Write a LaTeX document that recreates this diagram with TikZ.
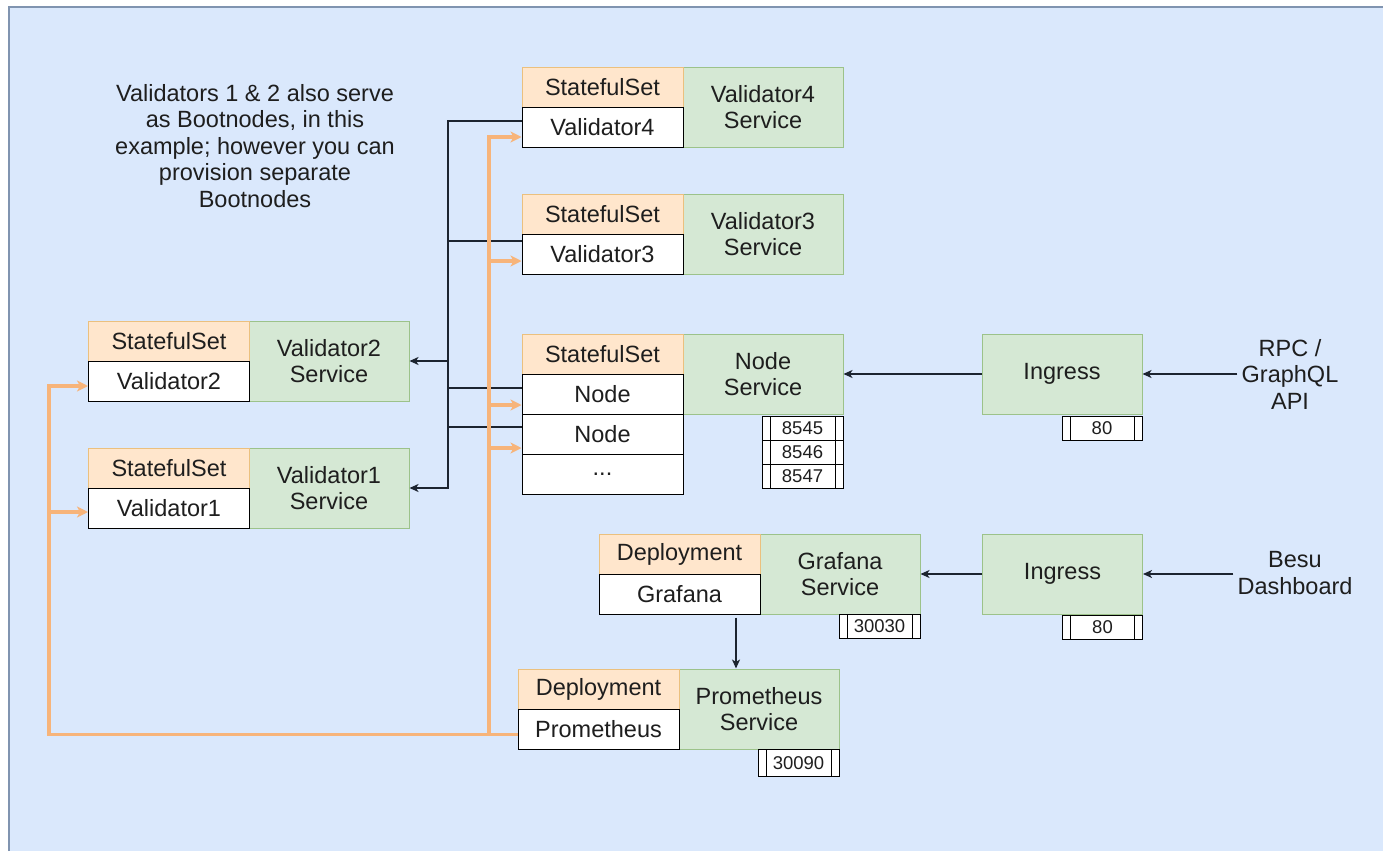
\documentclass[tikz,border=0pt]{standalone}
\usepackage{fontspec}
\setmainfont{Liberation Sans}
\usetikzlibrary{arrows.meta}
\definecolor{bgfill}{HTML}{DAE8FC}
\definecolor{bgline}{HTML}{8094B0}
\definecolor{ofill}{HTML}{FFE6CC}
\definecolor{odraw}{HTML}{EBC07E}
\definecolor{gfill}{HTML}{D5E8D4}
\definecolor{gdraw}{HTML}{9CC28A}
\definecolor{oline}{HTML}{F7B47A}
\definecolor{ink}{HTML}{1E1E1E}
\definecolor{wire}{HTML}{1C2430}
\begin{document}
\begin{tikzpicture}[x=1pt,y=-1pt,
  every node/.style={font=\fontsize{23.5}{26.5}\selectfont, text=ink, inner sep=0pt},
  head/.style={draw=odraw, fill=ofill, line width=1pt, minimum width=161pt, minimum height=40pt},
  body/.style={draw=black, fill=white, line width=1pt, minimum width=161pt, minimum height=40pt},
  svc/.style={draw=gdraw, fill=gfill, line width=1pt, minimum width=160pt, minimum height=80pt, align=center},
  port/.style={draw=black, fill=white, line width=1pt, minimum width=81pt, minimum height=24pt,
    font=\fontsize{18.5}{20}\selectfont,
    path picture={\draw[line width=1pt]
      ([xshift=8pt]path picture bounding box.south west) -- ([xshift=8pt]path picture bounding box.north west)
      ([xshift=-8pt]path picture bounding box.south east) -- ([xshift=-8pt]path picture bounding box.north east);}},
  lbl/.style={align=center, inner sep=4pt},
  blk/.style={draw=wire, line width=1.5pt, -{Stealth[length=9pt,width=8pt,inset=2.5pt]}},
  blkline/.style={draw=wire, line width=1.5pt},
  org/.style={draw=oline, line width=3.2pt, -{Stealth[length=11pt,width=11pt,inset=3pt]}},
]
\useasboundingbox (0,0) rectangle (1383,851);
% canvas
\fill[bgfill] (9,7) rectangle (1383,851);
\draw[bgline, line width=1.5pt] (9,851) -- (9,7) -- (1383,7);

% note
\node[align=center] (note) at (255,146) {Validators 1 \& 2 also serve\\as Bootnodes, in this\\example; however you can\\provision separate\\Bootnodes};

% Validator4
\node[svc]  (v4s) at (763,107) {Validator4\\Service};
\node[head] (v4h) at (602.5,87) {StatefulSet};
\node[body] (v4b) at (602.5,127) {Validator4};
% Validator3
\node[svc]  (v3s) at (763,234) {Validator3\\Service};
\node[head] (v3h) at (602.5,214) {StatefulSet};
\node[body] (v3b) at (602.5,254) {Validator3};
% Nodes
\node[svc]  (ns)  at (763,374) {Node\\Service};
\node[head] (nh)  at (602.5,354) {StatefulSet};
\node[body] (n1)  at (602.5,394) {Node};
\node[body] (n2)  at (602.5,434) {Node};
\node[body] (n3)  at (602.5,474) {...};
\node[port] (p1)  at (802.5,428) {8545};
\node[port] (p2)  at (802.5,452) {8546};
\node[port] (p3)  at (802.5,476) {8547};
% Validator2
\node[svc]  (v2s) at (329,361) {Validator2\\Service};
\node[head] (v2h) at (169,341) {StatefulSet};
\node[body] (v2b) at (169,381) {Validator2};
% Validator1
\node[svc]  (v1s) at (329,488) {Validator1\\Service};
\node[head] (v1h) at (169,468) {StatefulSet};
\node[body] (v1b) at (169,508) {Validator1};
% Grafana
\node[svc]  (gs)  at (840,574) {Grafana\\Service};
\node[head] (gh)  at (679.5,554) {Deployment};
\node[body] (gb)  at (679.5,594) {Grafana};
\node[port] (gp)  at (879.5,626) {30030};
% Prometheus
\node[svc]  (ps)  at (759,709) {Prometheus\\Service};
\node[head] (ph)  at (598.5,689) {Deployment};
\node[body] (pb)  at (598.5,729) {Prometheus};
\node[port, minimum height=27pt] (pp) at (798.5,763) {30090};
% Ingresses
\node[svc]  (i1)  at (1062,374) {Ingress};
\node[port, minimum width=80pt] (i1p) at (1102,428) {80};
\node[svc]  (i2)  at (1062.5,574) {Ingress};
\node[port, minimum width=80pt] (i2p) at (1102.5,627) {80};
% external clients
\node[lbl] (rpc)  at (1290,374) {RPC /\\GraphQL\\API};
\node[lbl] (besu) at (1295,573) {Besu\\Dashboard};

% ingress traffic
\draw[blk] (rpc.west -| rpc.west) -- (rpc.west -| i1.east);
\draw[blk] (i1.west) -- (ns.east);
\draw[blk] (besu.west |- i2.east) -- (i2.east);
\draw[blk] (i2.west) -- (gs.east);
% grafana queries prometheus
\coordinate (gq) at (736,0);
\draw[blk] ([yshift=-3pt]gb.south -| gq) -- (ps.north -| gq);

% bootnode links
\coordinate (bus) at (448,0);
\draw[blk] ([yshift=6pt]v4b.west) -- ([yshift=6pt]v4b.west -| bus) |- (v1s.east);
\draw[blk] ([yshift=13pt]v3b.west) -- ([yshift=13pt]v3b.west -| bus) |- (v2s.east);
\draw[blkline] ([yshift=6pt]n1.west) -- ([yshift=6pt]n1.west -| bus);
\draw[blkline] ([yshift=7pt]n2.west) -- ([yshift=7pt]n2.west -| bus);

% metrics scraping
\coordinate (sl) at (49,0);
\coordinate (sr) at (489,0);
\coordinate (pm) at ([yshift=-5.5pt]pb.west);
\draw[org] (pm) -- (pm -| sl) |- ([yshift=-5pt]v2b.west);
\draw[org] (pm) -- (pm -| sl) |- ([yshift=-4pt]v1b.west);
\draw[org] (pm) -- (pm -| sr) |- ([yshift=-10pt]v4b.west);
\draw[org] (pm) -- (pm -| sr) |- ([yshift=-7pt]v3b.west);
\draw[org] (pm) -- (pm -| sr) |- ([yshift=-11pt]n1.west);
\draw[org] (pm) -- (pm -| sr) |- ([yshift=-14pt]n2.west);
\end{tikzpicture}
\end{document}
